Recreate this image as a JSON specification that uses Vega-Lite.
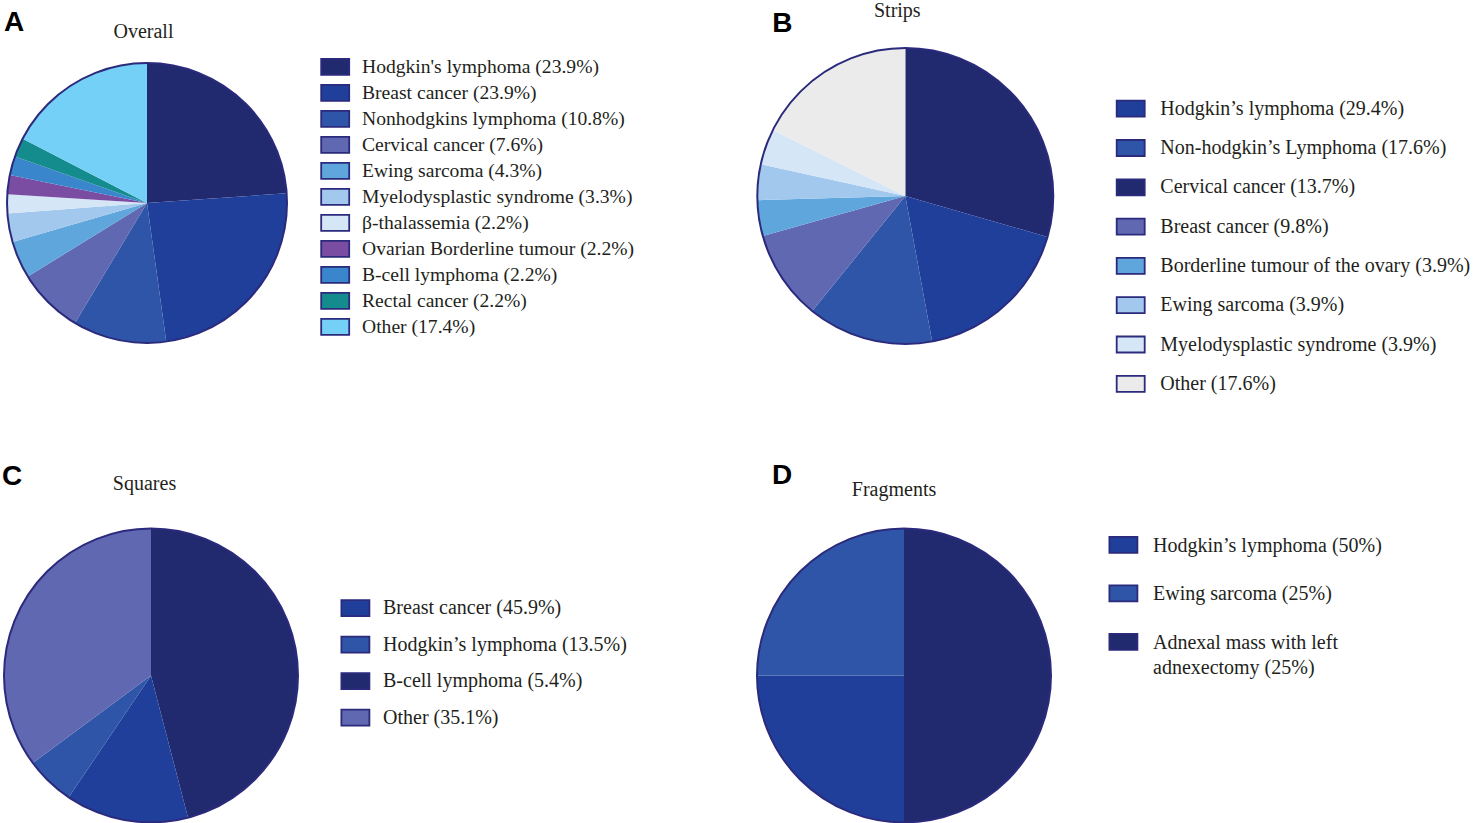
{
  "$schema": "https://vega.github.io/schema/vega-lite/v6.json",
  "background": "#ffffff",
  "padding": 0,
  "autosize": {"type": "pad"},
  "config": {
    "view": {"stroke": null},
    "title": {"font": "Liberation Serif", "fontSize": 20, "fontWeight": "normal", "color": "#231f20"}
  },
  "spacing": 55.5,
  "vconcat": [
    {
      "spacing": 118.3,
      "hconcat": [
        {
          "title": {"text": "A", "anchor": "start", "font": "Liberation Sans", "fontSize": 28, "fontWeight": "bold", "color": "#000000", "offset": -37, "dx": 3},
          "vconcat": [
            {
              "width": 292,
              "height": 406,
              "title": {"text": "Overall", "anchor": "middle", "frame": "group", "offset": -42, "dx": -3.5},
              "data": {"values": [
                {"k": 1, "label": "Hodgkin's lymphoma (23.9%)", "pct": 23.9},
                {"k": 2, "label": "Breast cancer (23.9%)", "pct": 23.9},
                {"k": 3, "label": "Nonhodgkins lymphoma (10.8%)", "pct": 10.8},
                {"k": 4, "label": "Cervical cancer (7.6%)", "pct": 7.6},
                {"k": 5, "label": "Ewing sarcoma (4.3%)", "pct": 4.3},
                {"k": 6, "label": "Myelodysplastic syndrome (3.3%)", "pct": 3.3},
                {"k": 7, "label": "β-thalassemia (2.2%)", "pct": 2.2},
                {"k": 8, "label": "Ovarian Borderline tumour (2.2%)", "pct": 2.2},
                {"k": 9, "label": "B-cell lymphoma (2.2%)", "pct": 2.2},
                {"k": 10, "label": "Rectal cancer (2.2%)", "pct": 2.2},
                {"k": 11, "label": "Other (17.4%)", "pct": 17.4}
              ]},
              "layer": [
                {
                  "mark": {"type": "arc", "radius": 140},
                  "encoding": {
                    "theta": {"field": "pct", "type": "quantitative", "stack": true},
                    "order": {"field": "k", "type": "quantitative"},
                    "color": {"field": "k", "type": "ordinal", "legend": null,
                      "scale": {"range": ["#222a6f", "#1f3f9b", "#2e55a7", "#6068b1", "#5ea6dc", "#a2c8ee", "#d5e6f6", "#7a4ca2", "#3a86cd", "#148b8c", "#74d0f6"]}}
                  }
                },
                {
                  "transform": [{"filter": "datum.k == 1"}],
                  "mark": {"type": "arc", "radius": 140, "theta": 0, "theta2": 6.2832, "filled": false, "stroke": "#2b2a7c", "strokeWidth": 2},
                  "encoding": {}
                },
                {
                  "transform": [{"filter": "datum.pct < 0"}],
                  "mark": {"type": "arc"},
                  "encoding": {
                    "color": {"field": "label", "type": "nominal",
                      "scale": {
                        "domain": ["Hodgkin's lymphoma (23.9%)", "Breast cancer (23.9%)", "Nonhodgkins lymphoma (10.8%)", "Cervical cancer (7.6%)", "Ewing sarcoma (4.3%)", "Myelodysplastic syndrome (3.3%)", "β-thalassemia (2.2%)", "Ovarian Borderline tumour (2.2%)", "B-cell lymphoma (2.2%)", "Rectal cancer (2.2%)", "Other (17.4%)"],
                        "range": ["#222a6f", "#1f3f9b", "#2e55a7", "#6068b1", "#5ea6dc", "#a2c8ee", "#d5e6f6", "#7a4ca2", "#3a86cd", "#148b8c", "#74d0f6"]
                      },
                      "legend": {
                        "orient": "none", "direction": "vertical", "legendX": 324.4, "legendY": 57, "title": null,
                        "symbolType": "M-1.75,-1H1.75V1H-1.75Z", "symbolSize": 256,
                        "symbolStrokeColor": "#2b2a7c", "symbolStrokeWidth": 1.8,
                        "labelFont": "Liberation Serif", "labelFontSize": 19.6, "labelColor": "#231f20", "labelLimit": 0, "labelOffset": 17,
                        "rowPadding": 2,
                        "encode": {"symbols": {"update": {"stroke": {"value": "#2b2a7c"}, "strokeWidth": {"value": 1.8}}}}
                      }
                    }
                  }
                }
              ],
              "resolve": {"scale": {"color": "independent"}}
            }
          ]
        },
        {
          "title": {"text": "B", "anchor": "start", "font": "Liberation Sans", "fontSize": 28, "fontWeight": "bold", "color": "#000000", "offset": -37.5, "dx": 19},
          "vconcat": [
            {
              "width": 300,
              "height": 392,
              "title": {"text": "Strips", "anchor": "middle", "frame": "group", "offset": -20.5, "dx": -8},
              "data": {"values": [
                {"k": 1, "label": "Hodgkin’s lymphoma (29.4%)", "pct": 29.4},
                {"k": 2, "label": "Non-hodgkin’s Lymphoma (17.6%)", "pct": 17.6},
                {"k": 3, "label": "Cervical cancer (13.7%)", "pct": 13.7},
                {"k": 4, "label": "Breast cancer (9.8%)", "pct": 9.8},
                {"k": 5, "label": "Borderline tumour of the ovary (3.9%)", "pct": 3.9},
                {"k": 6, "label": "Ewing sarcoma (3.9%)", "pct": 3.9},
                {"k": 7, "label": "Myelodysplastic syndrome (3.9%)", "pct": 3.9},
                {"k": 8, "label": "Other (17.6%)", "pct": 17.6}
              ]},
              "layer": [
                {
                  "mark": {"type": "arc", "radius": 148},
                  "encoding": {
                    "theta": {"field": "pct", "type": "quantitative", "stack": true},
                    "order": {"field": "k", "type": "quantitative"},
                    "color": {"field": "k", "type": "ordinal", "legend": null,
                      "scale": {"range": ["#222a6f", "#1f3f9b", "#2e55a7", "#6068b1", "#5ea6dc", "#a2c8ee", "#d5e6f6", "#ebebeb"]}}
                  }
                },
                {
                  "transform": [{"filter": "datum.k == 1"}],
                  "mark": {"type": "arc", "radius": 148, "theta": 0, "theta2": 6.2832, "filled": false, "stroke": "#2b2a7c", "strokeWidth": 2},
                  "encoding": {}
                },
                {
                  "transform": [{"filter": "datum.pct < 0"}],
                  "mark": {"type": "arc"},
                  "encoding": {
                    "color": {"field": "label", "type": "nominal",
                      "scale": {
                        "domain": ["Hodgkin’s lymphoma (29.4%)", "Non-hodgkin’s Lymphoma (17.6%)", "Cervical cancer (13.7%)", "Breast cancer (9.8%)", "Borderline tumour of the ovary (3.9%)", "Ewing sarcoma (3.9%)", "Myelodysplastic syndrome (3.9%)", "Other (17.6%)"],
                        "range": ["#1f3f9b", "#2e55a7", "#222a6f", "#6068b1", "#5ea6dc", "#a2c8ee", "#d5e6f6", "#ebebeb"]
                      },
                      "legend": {
                        "orient": "none", "direction": "vertical", "legendX": 365.4, "legendY": 98.7, "title": null,
                        "symbolType": "M-1.75,-1H1.75V1H-1.75Z", "symbolSize": 256,
                        "symbolStrokeColor": "#2b2a7c", "symbolStrokeWidth": 1.8,
                        "labelFont": "Liberation Serif", "labelFontSize": 20, "labelColor": "#231f20", "labelLimit": 0, "labelOffset": 19.6,
                        "rowPadding": 15.3,
                        "encode": {"symbols": {"update": {"stroke": {"value": "#2b2a7c"}, "strokeWidth": {"value": 1.8}}}}
                      }
                    }
                  }
                }
              ],
              "resolve": {"scale": {"color": "independent"}}
            }
          ]
        }
      ]
    },
    {
      "spacing": 125,
      "hconcat": [
        {
          "title": {"text": "C", "anchor": "start", "font": "Liberation Sans", "fontSize": 28, "fontWeight": "bold", "color": "#000000", "offset": -16.8, "dx": 2},
          "vconcat": [
            {
              "width": 300,
              "height": 296,
              "title": {"text": "Squares", "anchor": "middle", "frame": "group", "offset": 30.8, "dx": -6.5},
              "data": {"values": [
                {"k": 1, "label": "Breast cancer (45.9%)", "pct": 45.9},
                {"k": 2, "label": "Hodgkin’s lymphoma (13.5%)", "pct": 13.5},
                {"k": 3, "label": "B-cell lymphoma (5.4%)", "pct": 5.4},
                {"k": 4, "label": "Other (35.1%)", "pct": 35.1}
              ]},
              "layer": [
                {
                  "mark": {"type": "arc", "radius": 147},
                  "encoding": {
                    "theta": {"field": "pct", "type": "quantitative", "stack": true},
                    "order": {"field": "k", "type": "quantitative"},
                    "color": {"field": "k", "type": "ordinal", "legend": null,
                      "scale": {"range": ["#222a6f", "#1f3f9b", "#2e55a7", "#6068b1"]}}
                  }
                },
                {
                  "transform": [{"filter": "datum.k == 1"}],
                  "mark": {"type": "arc", "radius": 147, "theta": 0, "theta2": 6.2832, "filled": false, "stroke": "#2b2a7c", "strokeWidth": 2},
                  "encoding": {}
                },
                {
                  "transform": [{"filter": "datum.pct < 0"}],
                  "mark": {"type": "arc"},
                  "encoding": {
                    "color": {"field": "label", "type": "nominal",
                      "scale": {
                        "domain": ["Breast cancer (45.9%)", "Hodgkin’s lymphoma (13.5%)", "B-cell lymphoma (5.4%)", "Other (35.1%)"],
                        "range": ["#1f3f9b", "#2e55a7", "#222a6f", "#6068b1"]
                      },
                      "legend": {
                        "orient": "none", "direction": "vertical", "legendX": 344.4, "legendY": 70.7, "title": null,
                        "symbolType": "M-1.75,-1H1.75V1H-1.75Z", "symbolSize": 256,
                        "symbolStrokeColor": "#2b2a7c", "symbolStrokeWidth": 1.8,
                        "labelFont": "Liberation Serif", "labelFontSize": 20, "labelColor": "#231f20", "labelLimit": 0, "labelOffset": 17.6,
                        "rowPadding": 12.5,
                        "encode": {"symbols": {"update": {"stroke": {"value": "#2b2a7c"}, "strokeWidth": {"value": 1.8}}}}
                      }
                    }
                  }
                }
              ],
              "resolve": {"scale": {"color": "independent"}}
            }
          ]
        },
        {
          "title": {"text": "D", "anchor": "start", "font": "Liberation Sans", "fontSize": 28, "fontWeight": "bold", "color": "#000000", "offset": -10.5, "dx": 19},
          "vconcat": [
            {
              "width": 300,
              "height": 296,
              "title": {"text": "Fragments", "anchor": "middle", "frame": "group", "offset": 24.8, "dx": -10},
              "data": {"values": [
                {"k": 1, "label": "Hodgkin’s lymphoma (50%)", "pct": 50},
                {"k": 2, "label": "Ewing sarcoma (25%)", "pct": 25},
                {"k": 3, "label": "Adnexal mass with left adnexectomy (25%)", "pct": 25}
              ]},
              "layer": [
                {
                  "mark": {"type": "arc", "radius": 147},
                  "encoding": {
                    "theta": {"field": "pct", "type": "quantitative", "stack": true},
                    "order": {"field": "k", "type": "quantitative"},
                    "color": {"field": "k", "type": "ordinal", "legend": null,
                      "scale": {"range": ["#222a6f", "#1f3f9b", "#2e55a7"]}}
                  }
                },
                {
                  "transform": [{"filter": "datum.k == 1"}],
                  "mark": {"type": "arc", "radius": 147, "theta": 0, "theta2": 6.2832, "filled": false, "stroke": "#2b2a7c", "strokeWidth": 2},
                  "encoding": {}
                },
                {
                  "transform": [{"filter": "datum.pct < 0"}],
                  "mark": {"type": "arc"},
                  "encoding": {
                    "color": {"field": "label", "type": "nominal",
                      "scale": {
                        "domain": ["Hodgkin’s lymphoma (50%)", "Ewing sarcoma (25%)", "Adnexal mass with left adnexectomy (25%)"],
                        "range": ["#1f3f9b", "#2e55a7", "#222a6f"]
                      },
                      "legend": {
                        "orient": "none", "direction": "vertical", "legendX": 359.4, "legendY": 7.3, "title": null,
                        "symbolType": "M-1.75,-1H1.75V1H-1.75Z", "symbolSize": 256,
                        "symbolStrokeColor": "#2b2a7c", "symbolStrokeWidth": 1.8,
                        "labelFont": "Liberation Serif", "labelFontSize": 20, "labelColor": "#231f20", "labelLimit": 0, "labelOffset": 19.6,
                        "labelBaseline": "alphabetic",
                        "labelExpr": "datum.label == 'Adnexal mass with left adnexectomy (25%)' ? ['Adnexal mass with left', 'adnexectomy (25%)'] : datum.label",
                        "rowPadding": 24.5,
                        "encode": {
                          "symbols": {"update": {"stroke": {"value": "#2b2a7c"}, "strokeWidth": {"value": 1.8}}},
                          "labels": {"update": {"dy": {"value": 7}, "lineHeight": {"value": 25}}}
                        }
                      }
                    }
                  }
                }
              ],
              "resolve": {"scale": {"color": "independent"}}
            }
          ]
        }
      ]
    }
  ]
}
